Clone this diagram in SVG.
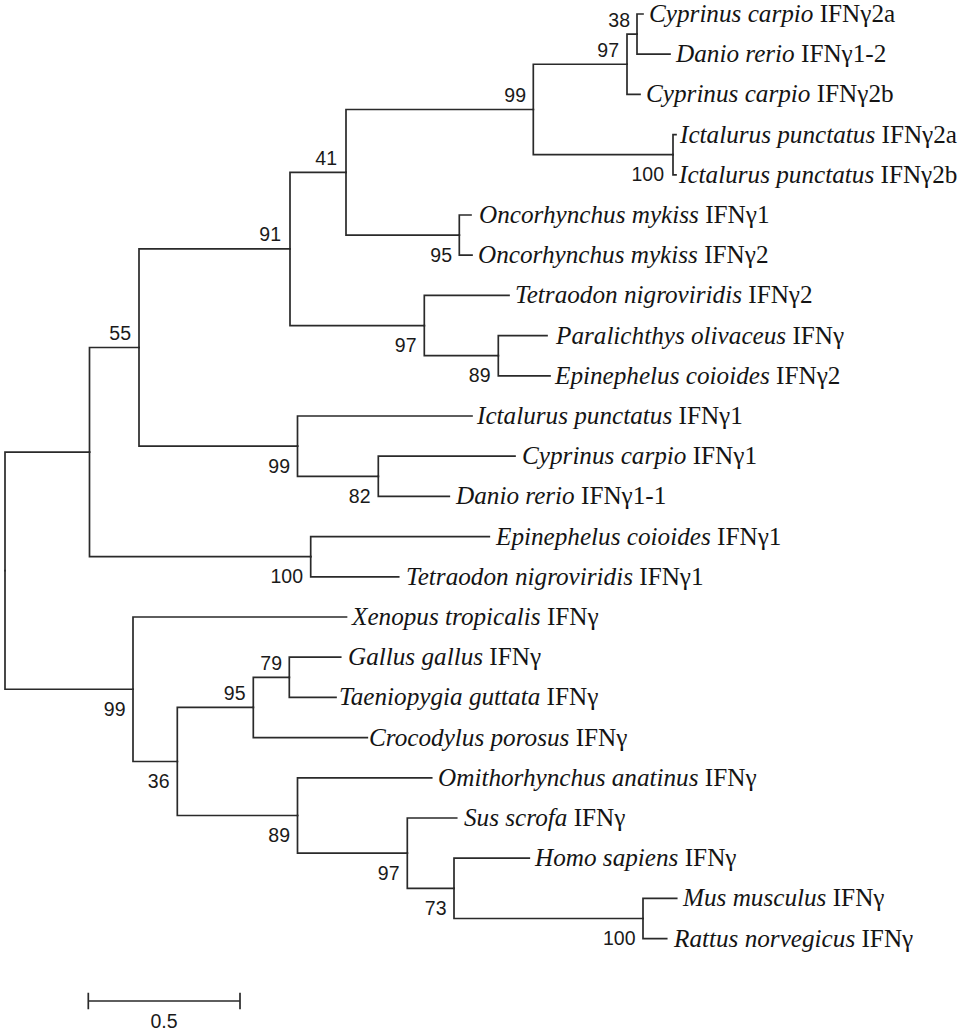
<svg xmlns="http://www.w3.org/2000/svg" width="962" height="1031" viewBox="0 0 962 1031">
<style>
.br{fill:none;stroke:#2a2a2a;stroke-width:1.7;stroke-linecap:square}
.sp{font-family:"Liberation Serif","Times New Roman",serif;font-size:25.2px;fill:#141414}
.sp .i{font-style:italic}
.bs{font-family:"Liberation Sans",Arial,sans-serif;font-size:19.5px;fill:#1a1a1a;text-anchor:end}
.sc{font-family:"Liberation Sans",Arial,sans-serif;font-size:19.5px;fill:#1a1a1a;text-anchor:middle}
</style>
<rect width="962" height="1031" fill="#ffffff"/>
<g id="connectors" class="br">
<path d="M5,570.7V452.1H89.5"/><path d="M5,570.7V689.25H133"/>
<path d="M89.5,452.1V347.5H139"/><path d="M89.5,452.1V556.7H310.7"/>
<path d="M139,347.5V248.9H290"/><path d="M139,347.5V446.15H297.5"/>
<path d="M290,248.9V172.3H346"/><path d="M290,248.9V325.55H424.3"/>
<path d="M346,172.3V109.5H533.3"/><path d="M346,172.3V235.1H459.3"/>
<path d="M533.3,109.5V64.25H627"/><path d="M533.3,109.5V154.7H673"/>
<path d="M627,64.25V34.1H637"/><path d="M627,64.25V94.4H640"/>
<path d="M637,34.1V14H643"/><path d="M637,34.1V54.2H670"/>
<path d="M673,154.7V134.6H676"/><path d="M673,154.7V174.8H676"/>
<path d="M459.3,235.1V215H471"/><path d="M459.3,235.1V255.2H472"/>
<path d="M424.3,325.55V295.4H509"/><path d="M424.3,325.55V355.7H498.3"/>
<path d="M498.3,355.7V335.6H547"/><path d="M498.3,355.7V375.8H550"/>
<path d="M297.5,446.15V416H472"/><path d="M297.5,446.15V476.3H378.3"/>
<path d="M378.3,476.3V456.2H515"/><path d="M378.3,476.3V496.4H449.3"/>
<path d="M310.7,556.7V536.6H489.3"/><path d="M310.7,556.7V576.8H398.7"/>
<path d="M133,689.25V617H346.5"/><path d="M133,689.25V761.5H177.3"/>
<path d="M177.3,761.5V707.45H253.3"/><path d="M177.3,761.5V815.5H297.5"/>
<path d="M253.3,707.45V677.3H289.3"/><path d="M253.3,707.45V737.6H367.3"/>
<path d="M289.3,677.3V657.2H340.7"/><path d="M289.3,677.3V697.4H336"/>
<path d="M297.5,815.5V777.8H431.7"/><path d="M297.5,815.5V853.2H407.3"/>
<path d="M407.3,853.2V818H456.7"/><path d="M407.3,853.2V888.35H454"/>
<path d="M454,888.35V858.2H529.3"/><path d="M454,888.35V918.5H643"/>
<path d="M643,918.5V898.4H676.7"/><path d="M643,918.5V938.6H666.7"/>
</g>
<g id="internal-nodes" class="bs">
<g id="nC"><text x="131" y="340">55</text></g>
<g id="nD"><text x="281" y="241.4">91</text></g>
<g id="nE"><text x="337" y="164.8">41</text></g>
<g id="nF"><text x="526" y="102">99</text></g>
<g id="nG"><text x="619" y="57">97</text></g>
<g id="nH"><text x="630" y="27">38</text></g>
<g id="nI"><text x="664" y="181">100</text></g>
<g id="nJ"><text x="452" y="261.5">95</text></g>
<g id="nK"><text x="416.5" y="352">97</text></g>
<g id="nL"><text x="490.5" y="382">89</text></g>
<g id="nM"><text x="290" y="472.5">99</text></g>
<g id="nN"><text x="370.5" y="502.5">82</text></g>
<g id="nO"><text x="303" y="583">100</text></g>
<g id="nP"><text x="125.5" y="715.5">99</text></g>
<g id="nQ"><text x="169.5" y="788">36</text></g>
<g id="nS"><text x="245.5" y="700">95</text></g>
<g id="nT"><text x="282" y="670">79</text></g>
<g id="nU"><text x="290" y="842">89</text></g>
<g id="nV"><text x="399.5" y="879.5">97</text></g>
<g id="nW"><text x="446.5" y="914.5">73</text></g>
<g id="nX"><text x="635.5" y="944.5">100</text></g>
</g>
<g id="leaves" class="sp">
<g id="leaf1"><text x="649" y="22"><tspan class="i">Cyprinus carpio</tspan> IFNγ2a</text></g>
<g id="leaf2"><text x="676" y="62.2"><tspan class="i">Danio rerio</tspan> IFNγ1-2</text></g>
<g id="leaf3"><text x="646" y="102.4"><tspan class="i">Cyprinus carpio</tspan> IFNγ2b</text></g>
<g id="leaf4"><text x="680" y="142.6"><tspan class="i">Ictalurus punctatus</tspan> IFNγ2a</text></g>
<g id="leaf5"><text x="679" y="182.8"><tspan class="i">Ictalurus punctatus</tspan> IFNγ2b</text></g>
<g id="leaf6"><text x="479" y="223"><tspan class="i">Oncorhynchus mykiss</tspan> IFNγ1</text></g>
<g id="leaf7"><text x="478" y="263.2"><tspan class="i">Oncorhynchus mykiss</tspan> IFNγ2</text></g>
<g id="leaf8"><text x="515" y="303.4"><tspan class="i">Tetraodon nigroviridis</tspan> IFNγ2</text></g>
<g id="leaf9"><text x="556" y="343.6"><tspan class="i">Paralichthys olivaceus</tspan> IFNγ</text></g>
<g id="leaf10"><text x="555" y="383.8"><tspan class="i">Epinephelus coioides</tspan> IFNγ2</text></g>
<g id="leaf11"><text x="477" y="424"><tspan class="i">Ictalurus punctatus</tspan> IFNγ1</text></g>
<g id="leaf12"><text x="522" y="464.2"><tspan class="i">Cyprinus carpio</tspan> IFNγ1</text></g>
<g id="leaf13"><text x="456" y="504.4"><tspan class="i">Danio rerio</tspan> IFNγ1-1</text></g>
<g id="leaf14"><text x="496" y="544.6"><tspan class="i">Epinephelus coioides</tspan> IFNγ1</text></g>
<g id="leaf15"><text x="406" y="584.8"><tspan class="i">Tetraodon nigroviridis</tspan> IFNγ1</text></g>
<g id="leaf16"><text x="352" y="625"><tspan class="i">Xenopus tropicalis</tspan> IFNγ</text></g>
<g id="leaf17"><text x="348" y="665.2"><tspan class="i">Gallus gallus</tspan> IFNγ</text></g>
<g id="leaf18"><text x="339" y="705.4"><tspan class="i">Taeniopygia guttata</tspan> IFNγ</text></g>
<g id="leaf19"><text x="369" y="745.6"><tspan class="i">Crocodylus porosus</tspan> IFNγ</text></g>
<g id="leaf20"><text x="438" y="785.8"><tspan class="i">Omithorhynchus anatinus</tspan> IFNγ</text></g>
<g id="leaf21"><text x="464" y="826"><tspan class="i">Sus scrofa</tspan> IFNγ</text></g>
<g id="leaf22"><text x="535" y="866.2"><tspan class="i">Homo sapiens</tspan> IFNγ</text></g>
<g id="leaf23"><text x="683" y="906.4"><tspan class="i">Mus musculus</tspan> IFNγ</text></g>
<g id="leaf24"><text x="674" y="946.6"><tspan class="i">Rattus norvegicus</tspan> IFNγ</text></g>
</g>
<g id="scale-bar">
<path class="br" d="M88.3,1001H240M88.3,993.5V1008.5M240,993.5V1008.5"/>
<text class="sc" x="164" y="1027.5">0.5</text>
</g>
</svg>
